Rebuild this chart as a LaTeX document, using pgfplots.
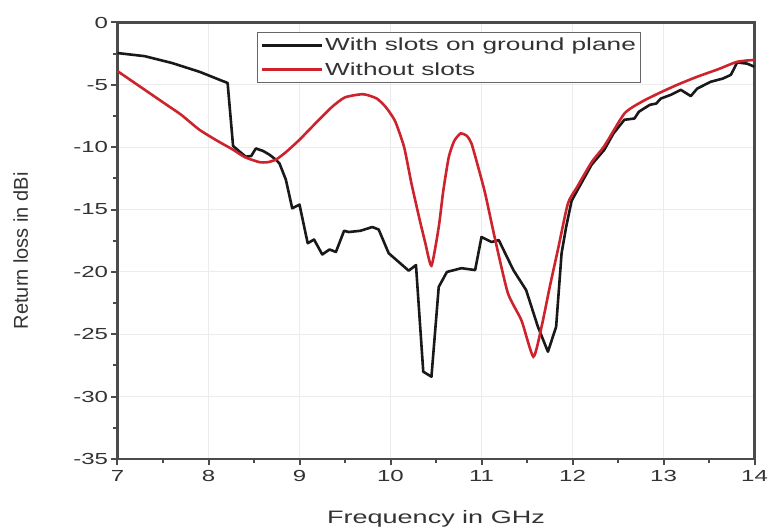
\documentclass[border=0pt]{standalone}
\usepackage{pgfplots}
\pgfplotsset{compat=1.18}
\usepackage{fontspec}
\setmainfont{Liberation Sans}[FakeStretch=1.5]
\newfontfamily\ylabfont{Liberation Sans}
\definecolor{curvered}{RGB}{205,35,45}
\definecolor{axgray}{RGB}{75,75,75}
\begin{document}
\begin{tikzpicture}
\begin{axis}[
  width=637pt, height=436.5pt, scale only axis,
  xmin=7, xmax=14, ymin=-35, ymax=0,
  xtick={7,8,...,14}, ytick={-35,-30,...,0},
  minor x tick num=1, minor y tick num=1,
  tick align=outside, tick pos=left,
  major tick length=6pt, minor tick length=4pt,
  every tick/.style={line width=2pt, axgray},
  grid=major, major grid style={gray!15, line width=1pt},
  axis line style={line width=2.2pt, axgray},
  /pgf/number format/assume math mode=true,
  tick label style={font=\fontsize{16}{18}\selectfont, text=black!80},
  xticklabel style={yshift=-2pt},
  xlabel={Frequency in GHz},
  xlabel style={at={(axis description cs:0.5,0)}, anchor=base, yshift=-64pt, font=\fontsize{18}{20}\selectfont, text=black!80},
  ylabel={\ylabfont Return loss in dBi},
  ylabel style={at={(axis description cs:-0.152,0.477)}, anchor=center, font=\fontsize{20}{22}\selectfont, text=black!80},
  legend style={at={(0.219,0.979)}, anchor=north west, draw=black!60, line width=1pt,
    font=\fontsize{17.5}{19}\selectfont, text=black!80, inner xsep=3pt, inner ysep=4pt, row sep=6pt,
    /tikz/every even column/.append style={column sep=6pt}},
  legend cell align=left,
  legend image code/.code={\draw[#1] (0pt,0pt) -- (60pt,0pt);},
]
\addplot[black!90, line width=2.6pt, line join=round] coordinates {
(7.0,-2.45) (7.3,-2.7) (7.6,-3.25) (7.9,-3.95) (8.21,-4.85)
(8.27,-9.9) (8.35,-10.4) (8.41,-10.76) (8.47,-10.7) (8.52,-10.1)
(8.60,-10.3) (8.67,-10.6) (8.74,-11.0) (8.78,-11.3) (8.85,-12.6)
(8.92,-14.9) (9.0,-14.6) (9.09,-17.7) (9.16,-17.4) (9.25,-18.6)
(9.33,-18.2) (9.40,-18.4) (9.49,-16.7) (9.54,-16.8) (9.67,-16.7)
(9.80,-16.4) (9.87,-16.6) (9.98,-18.5) (10.2,-19.9) (10.28,-19.45)
(10.36,-28.0) (10.45,-28.4) (10.53,-21.2) (10.62,-20.0) (10.78,-19.7)
(10.93,-19.85) (11.0,-17.2) (11.11,-17.6) (11.19,-17.45) (11.35,-19.85)
(11.49,-21.45) (11.62,-24.4) (11.73,-26.4) (11.82,-24.4) (11.88,-18.5)
(11.93,-16.4) (11.99,-14.3) (12.05,-13.5) (12.21,-11.4) (12.35,-10.2)
(12.45,-8.9) (12.57,-7.8) (12.68,-7.7) (12.73,-7.15) (12.85,-6.6)
(12.92,-6.5) (12.97,-6.1) (13.08,-5.8) (13.19,-5.4) (13.30,-5.9)
(13.37,-5.3) (13.52,-4.75) (13.65,-4.5) (13.74,-4.2) (13.81,-3.2)
(13.92,-3.3) (14.0,-3.55)
};
\addlegendentry{With slots on ground plane}
\addplot[curvered, line width=2.6pt, smooth, tension=0.35] coordinates {
(7.0,-3.9) (7.2,-4.9) (7.4,-5.9) (7.54,-6.6) (7.7,-7.4) (7.9,-8.6)
(8.1,-9.5) (8.27,-10.2) (8.4,-10.8) (8.56,-11.2) (8.65,-11.2) (8.74,-11.0)
(8.85,-10.4) (9.0,-9.4) (9.2,-7.9) (9.36,-6.75) (9.5,-6.0) (9.7,-5.75)
(9.85,-6.1) (9.95,-6.8) (10.05,-7.9) (10.15,-10.0) (10.23,-12.9) (10.32,-15.8)
(10.38,-17.6) (10.45,-19.5) (10.53,-16.4) (10.58,-13.5) (10.64,-10.8)
(10.70,-9.5) (10.77,-8.9) (10.84,-9.1) (10.89,-9.7) (10.96,-11.5)
(11.04,-13.7) (11.15,-17.4) (11.29,-21.7) (11.44,-23.9) (11.57,-26.8)
(11.66,-24.4) (11.75,-21.2) (11.84,-18.2) (11.95,-14.5) (12.05,-13.2)
(12.21,-11.2) (12.35,-9.9) (12.57,-7.3) (12.75,-6.4) (12.94,-5.7)
(13.15,-5.0) (13.37,-4.35) (13.6,-3.75) (13.81,-3.15) (14.0,-3.0)
};
\addlegendentry{Without slots}
\coordinate (sw) at (rel axis cs:0,0);
\coordinate (ne) at (rel axis cs:1,1);
\end{axis}
\pgfresetboundingbox
\path[use as bounding box] ([xshift=-117.5pt,yshift=-68pt]sw) rectangle ([xshift=13.5pt,yshift=22.5pt]ne);
\end{tikzpicture}
\end{document}
